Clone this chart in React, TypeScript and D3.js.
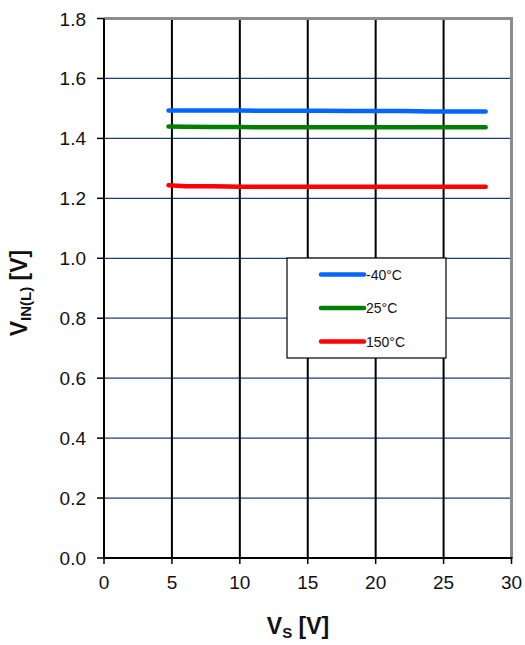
import React from "react";
import * as d3 from "d3";

const xTicks = [0, 5, 10, 15, 20, 25, 30];
const yTicks = [0, 0.2, 0.4, 0.6, 0.8, 1.0, 1.2, 1.4, 1.6, 1.8];
const vs = [4.75, 6, 8, 10, 12, 14, 16, 18, 20, 22, 24, 26, 28.1];
const vMinus40 = [1.493, 1.493, 1.493, 1.493, 1.492, 1.492, 1.492, 1.491, 1.491, 1.491, 1.490, 1.490, 1.490];
const v25 = [1.440, 1.439, 1.438, 1.438, 1.437, 1.437, 1.437, 1.437, 1.437, 1.437, 1.437, 1.437, 1.437];
const v150 = [1.244, 1.240, 1.240, 1.239, 1.239, 1.239, 1.239, 1.239, 1.239, 1.239, 1.239, 1.239, 1.239];
const seriesNames = ["-40°C", "25°C", "150°C"];
const seriesColors = ["#0066ff", "#008000", "#ff0000"];

export default function App() {
  const W = 525, H = 645;
  const x = d3.scaleLinear().domain([0, 30]).range([104, 511.5]);
  const y = d3.scaleLinear().domain([0, 1.8]).range([558, 18.5]);
  const line = d3.line<number>().x((_, i) => x(vs[i])).y((d) => y(d));
  const series = [vMinus40, v25, v150];
  const font = "Arial, 'Liberation Sans', sans-serif";
  const legendX = 287, legendY = 258;
  return (
    <svg width={W} height={H} style={{ position: "absolute", left: 0, top: 0, background: "#fff" }} fontFamily={font}>
      <rect x={0} y={0} width={W} height={H} fill="#fff" />
      {yTicks.slice(1, -1).map((t) => (
        <line key={"hy" + t} x1={x(0)} x2={x(30)} y1={y(t)} y2={y(t)} stroke="#1f3a78" strokeWidth={1.3} />
      ))}
      {xTicks.slice(1, -1).map((t) => (
        <line key={"vx" + t} x1={x(t)} x2={x(t)} y1={y(1.8)} y2={y(0)} stroke="#000" strokeWidth={2} />
      ))}
      <line x1={x(0)} x2={x(30)} y1={y(1.8)} y2={y(1.8)} stroke="#8c8c8c" strokeWidth={3} />
      <line x1={x(30)} x2={x(30)} y1={y(1.8) - 1.5} y2={y(0)} stroke="#8c8c8c" strokeWidth={3} />
      <line x1={x(0)} x2={x(0)} y1={y(1.8)} y2={y(0)} stroke="#000" strokeWidth={2} />
      <line x1={x(0)} x2={x(30) + 1} y1={y(0)} y2={y(0)} stroke="#000" strokeWidth={2} />
      {yTicks.map((t) => (
        <g key={"yt" + t}>
          <line x1={x(0) - 7} x2={x(0)} y1={y(t)} y2={y(t)} stroke="#000" strokeWidth={1.5} />
          <text x={86} y={y(t) + 7} textAnchor="end" fontSize={19} fill="#111">{t.toFixed(1)}</text>
        </g>
      ))}
      {xTicks.map((t) => (
        <g key={"xt" + t}>
          <line x1={x(t)} x2={x(t)} y1={y(0)} y2={y(0) + 6} stroke="#000" strokeWidth={1.5} />
          <text x={x(t)} y={589} textAnchor="middle" fontSize={19} fill="#111">{t}</text>
        </g>
      ))}
      {series.map((s, i) => (
        <path key={"s" + i} d={line(s) || ""} fill="none" stroke={seriesColors[i]} strokeWidth={4.5} strokeLinecap="round" strokeLinejoin="round" />
      ))}
      <rect x={legendX} y={legendY} width={159} height={100} fill="#fff" stroke="#000" strokeWidth={1.2} />
      {seriesNames.map((n, i) => {
        const ly = 274.5 + i * 33.5;
        return (
          <g key={"lg" + i}>
            <line x1={321} x2={364} y1={ly} y2={ly} stroke={seriesColors[i]} strokeWidth={4.5} strokeLinecap="round" />
            <text x={366} y={ly + 5} fontSize={14} fill="#111">{n}</text>
          </g>
        );
      })}
      <text x={298} y={634} textAnchor="middle" fontSize={23} fontWeight="bold" fill="#111">
        V<tspan fontSize={15} dy={4}>S</tspan><tspan dy={-4}> [V]</tspan>
      </text>
      <text transform="translate(27,293) rotate(-90)" textAnchor="middle" fontSize={23} fontWeight="bold" fill="#111">
        V<tspan fontSize={15} dy={4}>IN(L)</tspan><tspan dy={-4}> [V]</tspan>
      </text>
    </svg>
  );
}
